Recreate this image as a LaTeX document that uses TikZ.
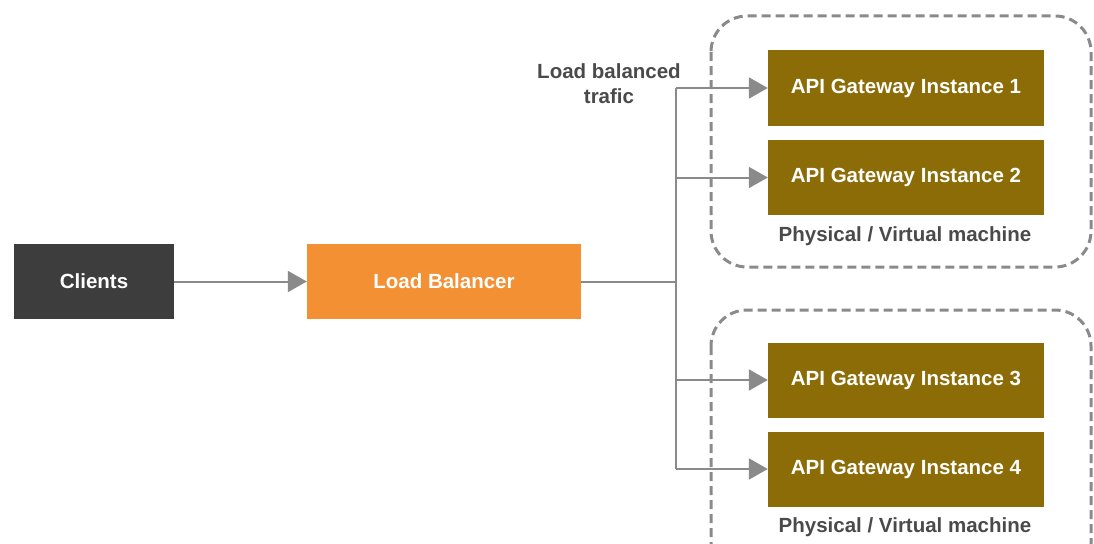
\documentclass[tikz,border=0pt]{standalone}
\usepackage{fontspec}
\setmainfont{Liberation Sans}
\usetikzlibrary{arrows.meta}
\definecolor{clientgray}{HTML}{3D3D3D}
\definecolor{lborange}{HTML}{F39033}
\definecolor{gwolive}{HTML}{8B6C07}
\definecolor{linegray}{HTML}{8A8A8A}
\definecolor{textgray}{HTML}{4A4A4A}
\tikzset{
  box/.style={draw=none, minimum height=75pt, text=white,
    font=\fontsize{20.5}{24}\selectfont\bfseries, inner sep=0pt},
  gwbox/.style={box, fill=gwolive, minimum width=276pt},
  link/.style={draw=linegray, line width=2pt},
  arrowlink/.style={link, -{Triangle[length=19pt,width=21pt]}},
  machine/.style={draw=linegray, line width=3pt, dash pattern=on 9pt off 5pt,
    rounded corners=36pt},
  caption/.style={text=textgray, font=\fontsize{20.5}{25}\selectfont\bfseries,
    align=center, inner sep=0pt}
}
\begin{document}
\begin{tikzpicture}[x=1pt, y=-1pt]
  \useasboundingbox (0,0) rectangle (1094,543);
  \clip (0,0) rectangle (1094,543);

  % machine groups
  \draw[machine] (711,16) rectangle (1091,267);
  \draw[machine] (711,310) rectangle (1091,580);
  \node[caption] (cap1) at (905,236) {Physical / Virtual machine};
  \node[caption] (cap2) at (905,527) {Physical / Virtual machine};

  % main boxes
  \node[box, fill=clientgray, minimum width=160pt] (clients) at (94,281.5) {Clients};
  \node[box, fill=lborange, minimum width=274pt] (lb) at (444,281.5) {Load Balancer};
  \node[gwbox] (gw1) at (906,88) {API Gateway Instance 1};
  \node[gwbox] (gw2) at (906,177.5) {API Gateway Instance 2};
  \node[gwbox] (gw3) at (906,380) {API Gateway Instance 3};
  \node[gwbox] (gw4) at (906,469) {API Gateway Instance 4};

  \node[caption] (traffic) at (609,84) {Load balanced\\trafic};

  % distribution spine
  \coordinate (spine) at (676,281.5);
  \coordinate (spinetop) at (676,88);
  \coordinate (spinebot) at (676,469);

  \draw[arrowlink] (clients.east) -- (lb.west);
  \draw[link] (lb.east) -- (spine);
  \draw[link] (spinetop) -- (spinebot);
  \foreach \g in {gw1,gw2,gw3,gw4}
    \draw[arrowlink] (\g.west -| spine) -- (\g.west);
\end{tikzpicture}
\end{document}
